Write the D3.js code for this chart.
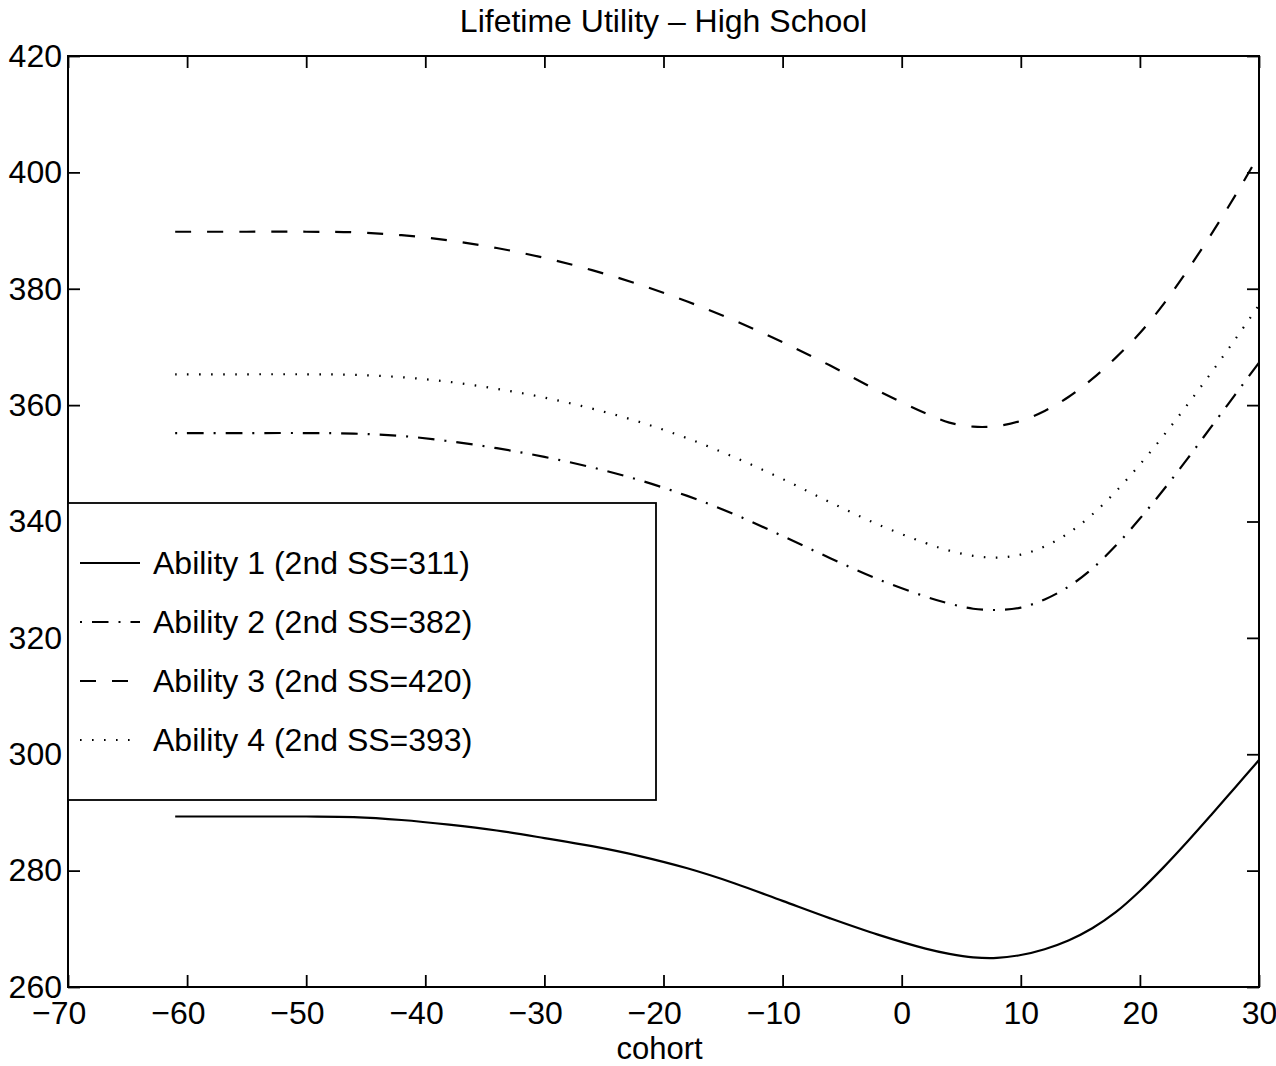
<!DOCTYPE html>
<html>
<head>
<meta charset="utf-8">
<script src="https://cdn.jsdelivr.net/npm/d3@7"></script>
<style>
  body { margin: 0; background: #fff; }
  text { font-family: "Liberation Sans", Arial, Helvetica, sans-serif; fill: #000; }
</style>
</head>
<body>
<div id="chart"></div>
<script>
// cohort values (x)
var cohort = [-61, -55, -50, -46, -42, -38, -34, -30, -26, -22, -18, -14, -10, -6, -2,
              2, 4, 6, 8, 10, 12, 14, 16, 18, 20, 22, 24, 26, 28, 30];

// lifetime utility for each ability group
var ability1 = [289.3, 289.3, 289.3, 289.2, 288.7, 287.9, 286.9, 285.6, 284.2, 282.5, 280.4, 277.8, 274.8, 271.8, 269.0,
                266.6, 265.7, 265.1, 265.0, 265.5, 266.5, 268.0, 270.1, 272.9, 276.5, 280.6, 285.0, 289.6, 294.3, 299.0];
var ability2 = [355.2, 355.2, 355.2, 355.1, 354.7, 353.8, 352.6, 351.1, 349.3, 347.1, 344.4, 341.2, 337.5, 333.7, 330.1,
                327.1, 325.9, 325.0, 324.8, 325.2, 326.6, 328.8, 331.9, 335.9, 340.5, 345.5, 350.8, 356.3, 361.8, 367.3];
var ability3 = [389.8, 389.8, 389.8, 389.7, 389.2, 388.3, 387.0, 385.3, 383.2, 380.7, 377.8, 374.5, 370.8, 366.8, 362.5,
                358.6, 357.0, 356.3, 356.4, 357.3, 359.0, 361.4, 364.5, 368.2, 372.4, 377.4, 383.2, 389.4, 396.0, 403.0];
var ability4 = [365.3, 365.3, 365.3, 365.2, 364.8, 364.0, 362.8, 361.3, 359.4, 357.1, 354.3, 351.0, 347.3, 343.3, 339.5,
                336.3, 335.0, 334.1, 333.8, 334.3, 335.7, 338.0, 341.2, 345.2, 349.8, 354.8, 360.1, 365.6, 371.3, 377.2];

var seriesLabels = ["Ability 1 (2nd SS=311)", "Ability 2 (2nd SS=382)",
                    "Ability 3 (2nd SS=420)", "Ability 4 (2nd SS=393)"];

var xTickValues = [-70, -60, -50, -40, -30, -20, -10, 0, 10, 20, 30];
var yTickValues = [260, 280, 300, 320, 340, 360, 380, 400, 420];

var titleText = "Lifetime Utility \u2013 High School";
var xLabel = "cohort";

// line styles, same order as the series
var dashStyles = [null, "2,10,16.5,10", "16,16", "1.6,10.4"];

var W = 1276, H = 1066;
var margin = { top: 56, right: 17, bottom: 79, left: 68 };
var plotW = W - margin.left - margin.right;
var plotH = H - margin.top - margin.bottom;
var fontSize = 32;

var svg = d3.select("#chart").append("svg")
    .attr("width", W)
    .attr("height", H);

var g = svg.append("g")
    .attr("transform", "translate(" + margin.left + "," + margin.top + ")");

var x = d3.scaleLinear().domain([-70, 30]).range([0, plotW]);
var y = d3.scaleLinear().domain([260, 420]).range([plotH, 0]);

var series = [ability1, ability2, ability3, ability4].map(function (vals, i) {
    return {
        label: seriesLabels[i],
        dash: dashStyles[i],
        points: cohort.map(function (c, j) { return { x: c, y: vals[j] }; })
    };
});

// axes, ticks pointing inward like matlab
var tickLen = 12;

var xAxis = g.append("g")
    .attr("transform", "translate(0," + plotH + ")")
    .call(d3.axisBottom(x).tickValues(xTickValues).tickSize(-tickLen).tickPadding(14));
xAxis.selectAll("text")
    .style("font-size", fontSize + "px")
    .attr("dx", function (d) { return d < 0 ? "-0.29em" : null; });

var yAxis = g.append("g")
    .call(d3.axisLeft(y).tickValues(yTickValues).tickSize(-tickLen).tickPadding(6));
yAxis.selectAll("text")
    .style("font-size", fontSize + "px");

g.append("g")
    .call(d3.axisTop(x).tickValues(xTickValues).tickSize(-tickLen).tickFormat(""));
g.append("g")
    .attr("transform", "translate(" + plotW + ",0)")
    .call(d3.axisRight(y).tickValues(yTickValues).tickSize(-tickLen).tickFormat(""));

g.selectAll(".domain").remove();
g.selectAll(".tick line").attr("stroke", "#000").attr("stroke-width", 1.8);

// frame
g.append("rect")
    .attr("width", plotW)
    .attr("height", plotH)
    .attr("fill", "none")
    .attr("stroke", "#000")
    .attr("stroke-width", 2);

// curves
var line = d3.line()
    .x(function (d) { return x(d.x); })
    .y(function (d) { return y(d.y); })
    .curve(d3.curveCatmullRom.alpha(0.5));

g.selectAll(".series")
    .data(series)
    .enter().append("path")
    .attr("class", "series")
    .attr("d", function (d) { return line(d.points); })
    .attr("fill", "none")
    .attr("stroke", "#000")
    .attr("stroke-width", 2.2)
    .attr("stroke-dasharray", function (d) { return d.dash; });

// legend box
var legend = svg.append("g").attr("transform", "translate(68,503)");
legend.append("rect")
    .attr("width", 588)
    .attr("height", 297)
    .attr("fill", "#fff")
    .attr("stroke", "#000")
    .attr("stroke-width", 1.8);

var rows = legend.selectAll(".row")
    .data(series)
    .enter().append("g")
    .attr("class", "row")
    .attr("transform", function (d, i) { return "translate(0," + (60 + i * 59) + ")"; });

rows.append("line")
    .attr("x1", 12).attr("x2", 72)
    .attr("stroke", "#000")
    .attr("stroke-width", 2.2)
    .attr("stroke-dasharray", function (d) { return d.dash; });

rows.append("text")
    .attr("x", 85)
    .attr("dy", "0.35em")
    .style("font-size", fontSize + "px")
    .text(function (d) { return d.label; });

// title and x label
svg.append("text")
    .attr("x", margin.left + plotW / 2)
    .attr("y", 32)
    .attr("text-anchor", "middle")
    .style("font-size", fontSize + "px")
    .text(titleText);

svg.append("text")
    .attr("x", margin.left + plotW / 2 - 4)
    .attr("y", 1059)
    .attr("text-anchor", "middle")
    .style("font-size", "31px")
    .text(xLabel);
</script>
</body>
</html>
